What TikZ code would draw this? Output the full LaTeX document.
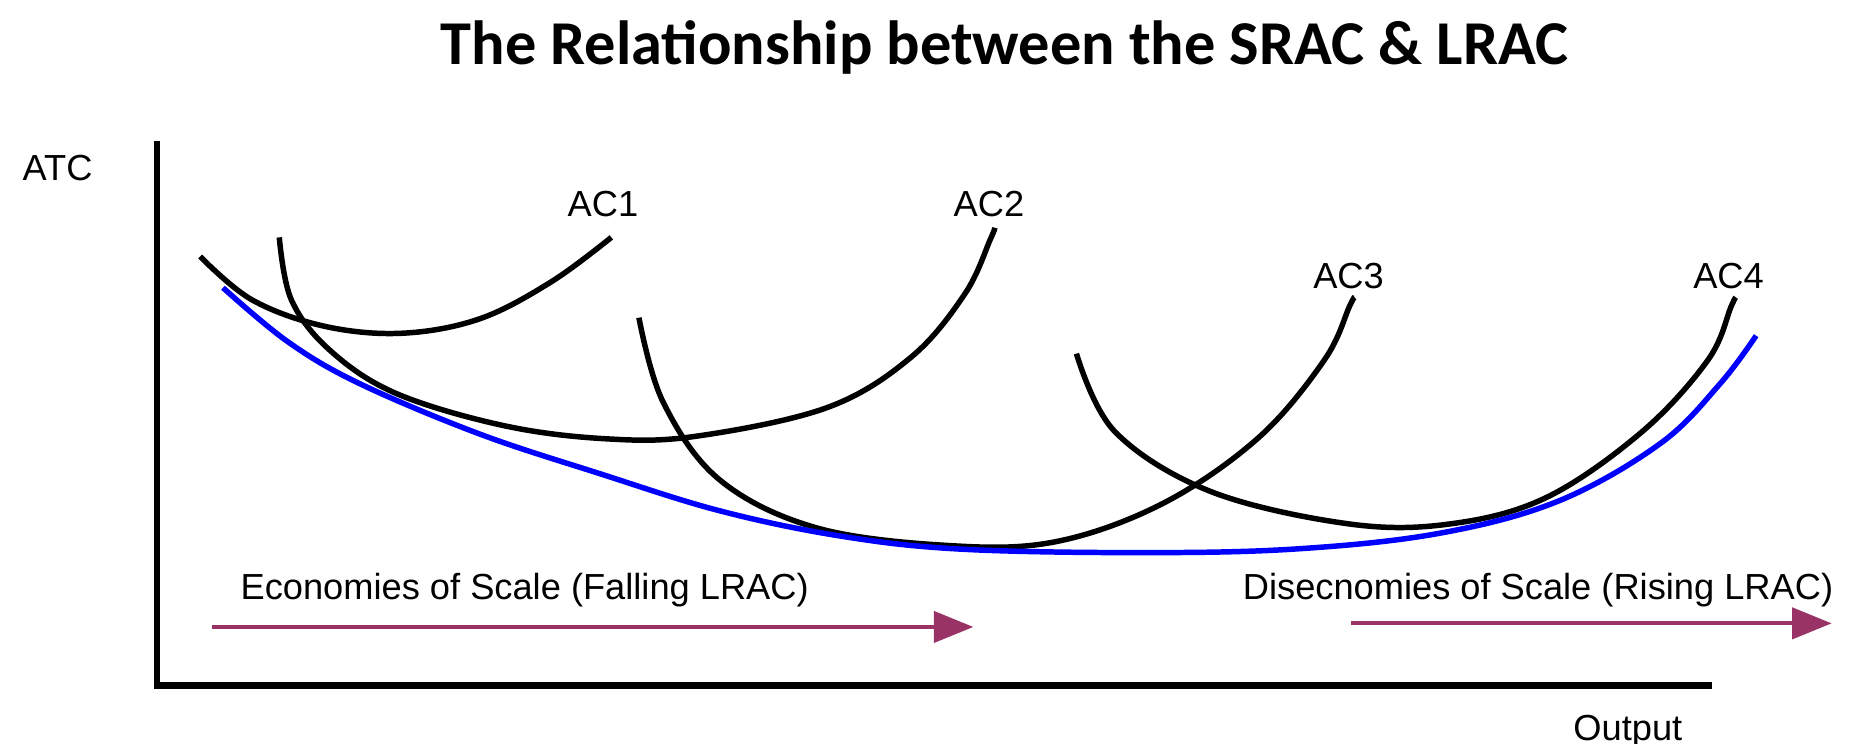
\documentclass[tikz,border=0pt]{standalone}
\usepackage{fontspec}
\setmainfont{Liberation Sans}
\newfontfamily\titlefont{Carlito}
\usetikzlibrary{arrows.meta, positioning}
\definecolor{maroon}{HTML}{993366}
\begin{document}
\begin{tikzpicture}[
        x=0.01cm, y=-0.01cm,
        lbl/.style={font=\fontsize{8.6}{10}\selectfont, inner sep=0pt},
        cost/.style={line width=1.3pt, black},
        lrac/.style={line width=1.3pt, blue},
        scale arrow/.style={-{Triangle[length=3.3mm, width=2.6mm]}, maroon, line width=0.9pt}
    ]
        \useasboundingbox (0,0) rectangle (1555,620);
        % Title
        \node[font=\titlefont\bfseries\fontsize{14.8}{18}\selectfont] (title) at (838,40) {The Relationship between the SRAC \& LRAC};

        % Axes
        \coordinate (origin) at (131,572);
        \coordinate (ytop) at (131,118);
        \coordinate (xend) at (1428,572);
        \draw[line width=1.6pt] (ytop) -- (origin) -- (xend);
        \node[lbl] (atc) at (48,140) {ATC};
        \node[lbl] (output) at (1358,610) {Output};

        % Short run curves
        \draw[cost] plot[smooth, tension=0.6] coordinates {(167,214) (210,250) (270,272) (335,278) (400,266) (460,235) (510,198)};
        \draw[cost] plot[smooth, tension=0.6] coordinates {(233,198) (243,250) (275,292) (330,328) (420,355) (505,366) (580,364) (690,340) (760,298) (805,245) (826,200) (830,190)};
        \draw[cost] plot[smooth, tension=0.6] coordinates {(533,265) (553,335) (600,400) (680,440) (790,455) (880,452) (970,420) (1050,365) (1105,300) (1126,255) (1130,248)};
        \draw[cost] plot[smooth, tension=0.6] coordinates {(898,295) (930,360) (1010,410) (1125,437) (1210,437) (1290,415) (1370,360) (1425,300) (1444,256) (1448,248)};
        \node[lbl] (ac1) at (503,170) {AC1};
        \node[lbl] (ac2) at (825,170) {AC2};
        \node[lbl] (ac3) at (1125,230) {AC3};
        \node[lbl] (ac4) at (1442,230) {AC4};

        % Long run curve
        \draw[lrac] plot[smooth, tension=0.6] coordinates {(186,240) (240,285) (300,320) (400,362) (500,395) (600,426) (700,447) (800,458) (950,461) (1080,458) (1200,445) (1300,418) (1385,370) (1435,320) (1465,280)};

        % Scale arrows
        \node[lbl, anchor=west] (econ) at (200,492) {Economies of Scale (Falling LRAC)};
        \node[lbl, anchor=east] (disecon) at (1530,492) {Disecnomies of Scale (Rising LRAC)};
        \coordinate (econ start) at (177,523);
        \coordinate (econ end) at (812,523);
        \coordinate (disecon start) at (1127,520);
        \coordinate (disecon end) at (1528,520);
        \draw[scale arrow] (econ start) -- (econ end);
        \draw[scale arrow] (disecon start) -- (disecon end);
    \end{tikzpicture}
\end{document}
